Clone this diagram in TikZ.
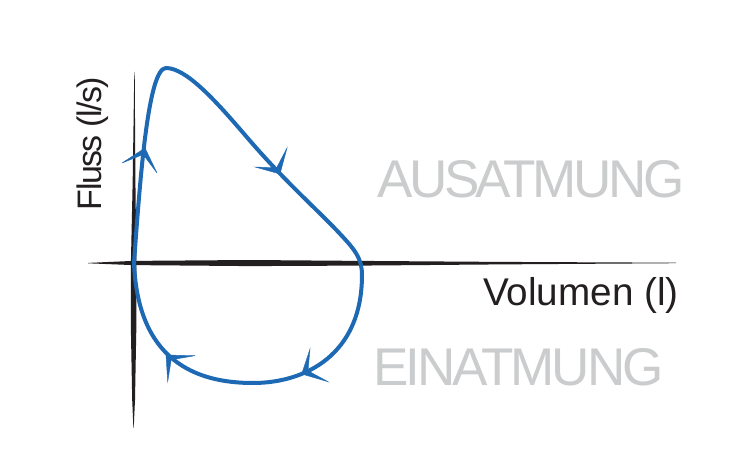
\documentclass[tikz,border=0pt]{standalone}
\usepackage{fontspec}
\setmainfont{Liberation Sans}
\newfontfamily\bigfont[LetterSpace=-6.6]{Liberation Sans}
\newfontfamily\einfont[LetterSpace=-5.6]{Liberation Sans}
\newfontfamily\flussfont[LetterSpace=-4.5]{Liberation Sans}
\definecolor{loopblue}{HTML}{1E69B4}
\definecolor{labelgrey}{HTML}{CBCCCD}
\definecolor{axisblack}{HTML}{231F20}
\tikzset{
  loopline/.style={draw=loopblue, line width=3pt, line join=round},
  arrowhd/.style={fill=loopblue, draw=loopblue, line width=0.3pt, line join=miter},
  axisfill/.style={fill=axisblack},
  phase/.style={inner sep=0pt, text=labelgrey},
  axislabel/.style={inner sep=0pt, text=axisblack},
}
\begin{document}
\begin{tikzpicture}[x=0.75pt,y=-0.75pt]
\useasboundingbox (0,0) rectangle (739,456);
\fill[white] (0,0) rectangle (739,456);
% horizontal axis (tapered stroke)
\fill[axisfill] (88,262.9) -- (133,260.9) -- (250,260.0) -- (360,260.9) -- (500,261.9) -- (676,262.7)
  -- (676,263.2) -- (500,264.4) -- (360,265.6) -- (250,266.1) -- (133,265.1) -- (88,263.3) -- cycle;
% vertical axis (tapered stroke)
\fill[axisfill] (134.3,72) -- (132.7,180) -- (130.9,263) -- (130.9,330) -- (132.2,400) -- (133.4,428)
  -- (133.7,428) -- (135.0,400) -- (136.3,330) -- (136.4,263) -- (135.4,180) -- (134.7,72) -- cycle;
% flow-volume loop
\draw[loopline] (134,263) .. controls (140,180) and (148,68) .. (166,68)
  .. controls (186,68) and (215,100) .. (245,135)
  .. controls (285,182) and (318,210) .. (342,236)
  .. controls (354,249) and (362,258) .. (362,275)
  .. controls (362,355) and (305,383) .. (253,383)
  .. controls (195,383) and (138,360) .. (134,263) -- cycle;
% arrowheads
\filldraw[arrowhd] (145,148) -- (122,163) -- (143.2,154.5) -- (157,173) -- cycle;
\filldraw[arrowhd] (280,174) -- (255,167) -- (276.6,167.8) -- (287,148) -- cycle;
\filldraw[arrowhd] (301.7,374) -- (310,349) -- (308,370.8) -- (328,381.7) -- cycle;
\filldraw[arrowhd] (166,355) -- (195,355.7) -- (171.2,359.8) -- (167.7,381.7) -- cycle;
% labels
\node[phase, anchor=base west, font=\bigfont\fontsize{39.8}{42}\selectfont] (aus) at (377,198) {AUSATMUNG};
\node[phase, anchor=base west, font=\einfont\fontsize{39.8}{42}\selectfont] (ein) at (373,385) {EINATMUNG};
\node[axislabel, anchor=base east, font=\fontsize{29}{31}\selectfont] (vol) at (679,305) {Volumen (l)};
\node[axislabel, anchor=base west, rotate=90, font=\flussfont\fontsize{25.5}{27}\selectfont] (flu) at (101,210.5) {Fluss (l/s)};
\end{tikzpicture}
\end{document}
